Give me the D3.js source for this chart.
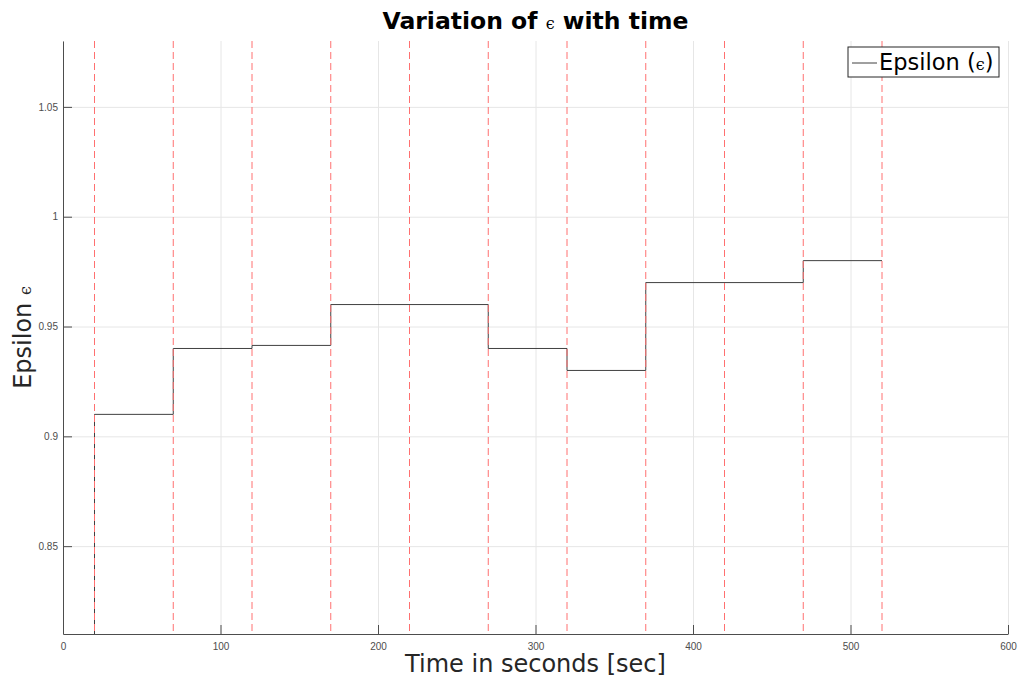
<!DOCTYPE html>
<html>
<head>
<meta charset="utf-8">
<script src="https://cdn.jsdelivr.net/npm/d3@7"></script>
<style>
  body { margin: 0; background: #fff; }
  svg { font-family: "DejaVu Sans", sans-serif; }
  .tick text { fill: #4d4d4d; font-size: 10px; }
  .domain { stroke: #4d4d4d; }
  .tick line { stroke: #4d4d4d; }
  .grid line { stroke: #e6e6e6; }
  .grid .domain { display: none; }
</style>
</head>
<body>
<svg></svg>
<script>
//constants
const W = 1033, H = 682;
const margin = {top: 41, right: 25, bottom: 48, left: 63};
const width = W - margin.left - margin.right;
const height = H - margin.top - margin.bottom;

//data
const stepTimes = [20, 20, 70, 120, 170, 270, 320, 370, 470, 520];
const epsilonValues = [0.80, 0.91, 0.94, 0.9414, 0.96, 0.94, 0.93, 0.97, 0.98, 0.98];
const eventTimes = [20, 70, 120, 170, 220, 270, 320, 370, 420, 470, 520];
const xTicks = [0, 100, 200, 300, 400, 500, 600];
const yTicks = [0.85, 0.9, 0.95, 1, 1.05];

const data = stepTimes.map((t, i) => ({t: t, v: epsilonValues[i]}));

//scales
const xScale = d3.scaleLinear().domain([0, 600]).range([0, width]);
const yScale = d3.scaleLinear().domain([0.81, 1.08]).range([height, 0]);

const svg = d3.select("svg")
    .attr("width", W)
    .attr("height", H)
    .append("g")
    .attr("transform", "translate(" + margin.left + "," + margin.top + ")");

svg.append("clipPath").attr("id", "clip")
    .append("rect").attr("width", width).attr("height", height);

//grid
svg.append("g")
    .attr("class", "grid")
    .attr("transform", "translate(0," + height + ")")
    .call(d3.axisBottom(xScale).tickValues(xTicks).tickSize(-height).tickFormat(""));

svg.append("g")
    .attr("class", "grid")
    .call(d3.axisLeft(yScale).tickValues(yTicks).tickSize(-width).tickFormat(""));

//step line
const chart = svg.append("g").attr("clip-path", "url(#clip)");

chart.append("path")
    .datum(data)
    .attr("fill", "none")
    .attr("stroke", "#404040")
    .attr("stroke-width", 1)
    .attr("d", d3.line()
        .x(d => xScale(d.t))
        .y(d => yScale(d.v))
        .curve(d3.curveStepAfter));

//event markers
chart.selectAll(".event")
    .data(eventTimes)
    .enter()
    .append("line")
    .attr("class", "event")
    .attr("x1", d => xScale(d))
    .attr("x2", d => xScale(d))
    .attr("y1", 0)
    .attr("y2", height)
    .attr("stroke", "#ff7070")
    .attr("stroke-width", 1)
    .attr("stroke-dasharray", "7,4");

//axes
svg.append("g")
    .attr("transform", "translate(0," + height + ")")
    .call(d3.axisBottom(xScale).tickValues(xTicks).tickSizeInner(-9).tickSizeOuter(0).tickPadding(6))
    .call(g => g.selectAll(".tick text").attr("dy", "1em"));

svg.append("g")
    .call(d3.axisLeft(yScale).tickValues(yTicks).tickFormat(d => String(d))
        .tickSizeInner(-9).tickSizeOuter(0).tickPadding(5));

//title
const title = svg.append("text")
    .attr("x", width / 2)
    .attr("y", -12)
    .attr("text-anchor", "middle")
    .style("font-size", "23.5px")
    .style("font-weight", "bold")
    .attr("fill", "#000");
title.append("tspan").text("Variation of ");
title.append("tspan").text("ϵ").style("font-size", "16px").style("font-weight", "normal")
    .style("font-family", "DejaVu Serif, serif");
title.append("tspan").text(" with time");

//axis labels
svg.append("text")
    .attr("x", width / 2)
    .attr("y", height + 38)
    .attr("text-anchor", "middle")
    .style("font-size", "24px")
    .attr("fill", "#262626")
    .text("Time in seconds [sec]");

const yl = svg.append("text")
    .attr("transform", "translate(" + (-32) + "," + (height / 2) + ") rotate(-90)")
    .attr("text-anchor", "middle")
    .style("font-size", "24px")
    .attr("fill", "#262626");
yl.append("tspan").text("Epsilon ");
yl.append("tspan").text("ϵ").style("font-size", "16px").style("font-family", "DejaVu Serif, serif");

//legend
const legend = svg.append("g")
    .attr("transform", "translate(" + (848 - margin.left) + "," + (47 - margin.top) + ")");
legend.append("rect")
    .attr("width", 151)
    .attr("height", 30)
    .attr("fill", "#fff")
    .attr("stroke", "#262626")
    .attr("stroke-width", 1);
legend.append("line")
    .attr("x1", 4).attr("x2", 29)
    .attr("y1", 16).attr("y2", 16)
    .attr("stroke", "#404040");
const lt = legend.append("text")
    .attr("x", 31)
    .attr("y", 23)
    .style("font-size", "22.5px")
    .attr("fill", "#000");
lt.append("tspan").text("Epsilon (");
lt.append("tspan").text("ϵ").style("font-size", "16px").style("font-family", "DejaVu Serif, serif");
lt.append("tspan").text(")");
</script>
</body>
</html>
